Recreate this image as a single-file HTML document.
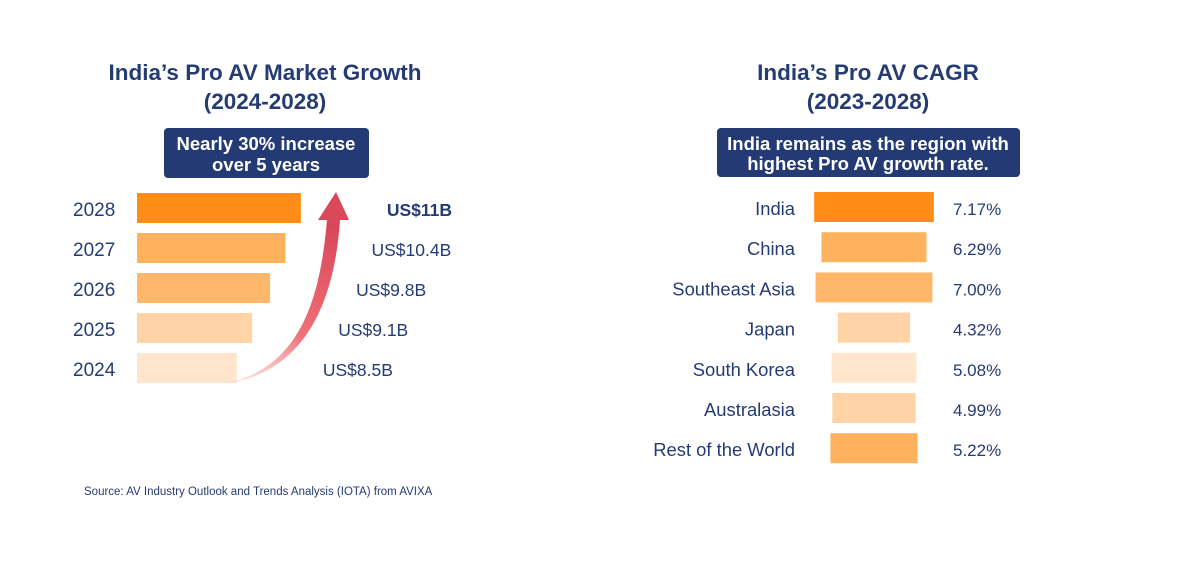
<!DOCTYPE html>
<html><head><meta charset="utf-8"><style>
body{margin:0;background:#fff;width:1200px;height:573px;overflow:hidden;font-family:"Liberation Sans",sans-serif}
svg text{font-family:"Liberation Sans",sans-serif}
</style></head><body>
<svg width="1200" height="573" viewBox="0 0 1200 573">
<defs>
<linearGradient id="arr" x1="0" y1="1" x2="0.3" y2="0">
<stop offset="0" stop-color="#f9c9c6" stop-opacity="0.4"/><stop offset="0.4" stop-color="#ef7178"/><stop offset="1" stop-color="#d9475a"/>
</linearGradient>
</defs>
<text x="265" y="80" text-anchor="middle" font-size="22.5" font-weight="bold" fill="#253b73">India’s Pro AV Market Growth</text>
<text x="265" y="109" text-anchor="middle" font-size="22.5" font-weight="bold" fill="#253b73">(2024-2028)</text>
<text x="868" y="80" text-anchor="middle" font-size="22.5" font-weight="bold" fill="#253b73">India’s Pro AV CAGR</text>
<text x="868" y="109" text-anchor="middle" font-size="22.5" font-weight="bold" fill="#253b73">(2023-2028)</text>
<g>
<rect x="164" y="128" width="205" height="50" rx="4" fill="#233a75"/>
<text x="266" y="150" text-anchor="middle" font-size="18.5" font-weight="bold" fill="#fff">Nearly 30% increase</text>
<text x="266" y="171" text-anchor="middle" font-size="18.5" font-weight="bold" fill="#fff">over 5 years</text>
</g>
<g>
<rect x="717" y="128" width="303" height="49" rx="4" fill="#233a75"/>
<text x="868" y="150" text-anchor="middle" font-size="18.5" font-weight="bold" fill="#fff">India remains as the region with</text>
<text x="868" y="170" text-anchor="middle" font-size="18.5" font-weight="bold" fill="#fff">highest Pro AV growth rate.</text>
</g>
<g id="left"></g><g id="right"></g>
<path d="M222,384 C300,370 320,300 327,220 L318,220 L336,192 L349,220 L340,220 C334,310 300,375 222,384 Z" fill="url(#arr)"/>
<text x="84" y="495" font-size="11.5" fill="#253b73">Source: AV Industry Outlook and Trends Analysis (IOTA) from AVIXA</text>
</svg>
<script>
const years=["2028","2027","2026","2025","2024"];
const marketValues=[11,10.4,9.8,9.1,8.5];
const marketLabels=["US$11B","US$10.4B","US$9.8B","US$9.1B","US$8.5B"];
const regions=["India","China","Southeast Asia","Japan","South Korea","Australasia","Rest of the World"];
const cagrValues=[7.17,6.29,7.00,4.32,5.08,4.99,5.22];
const cagrLabels=["7.17%","6.29%","7.00%","4.32%","5.08%","4.99%","5.22%"];
const leftColors=["#ff8c16","#ffb25e","#ffb86a","#ffd3a6","#ffe5cb"];
const rightColors=["#ff8c16","#ffb25e","#ffb86a","#ffd3a6","#ffe5cb","#ffd3a6","#ffb25e"];
const NS="http://www.w3.org/2000/svg";
function mk(t,a,p){const e=document.createElementNS(NS,t);for(const k in a)e.setAttribute(k,a[k]);p.appendChild(e);return e;}
const xL=v=>(v-4.6)*25.6;
const yL=i=>193+i*40;
const L=document.getElementById('left');
years.forEach((y,i)=>{
  const w=xL(marketValues[i]);
  const r=mk('rect',{x:137,y:yL(i),width:w,height:30,fill:leftColors[i]},L);
  
  
  const t=mk('text',{x:73,y:yL(i)+23,'font-size':19,fill:'#253b73'},L);t.textContent=y;
  
  
  const v=mk('text',{x:137+w+86,y:yL(i)+23,'font-size':17.5,fill:'#253b73','font-weight':i==0?'bold':'normal'},L);v.textContent=marketLabels[i];
  
  
});
const xR=v=>v*16.7;
const yR=i=>192+i*40.2;
const R=document.getElementById('right');
regions.forEach((g,i)=>{
  const w=xR(cagrValues[i]);
  const r=mk('rect',{x:874-w/2,y:yR(i),width:w,height:30,fill:rightColors[i]},R);
  
  
  const t=mk('text',{x:795,y:yR(i)+23,'font-size':18.4,fill:'#253b73','text-anchor':'end'},R);t.textContent=g;
  
  
  const v=mk('text',{x:953,y:yR(i)+23,'font-size':17,fill:'#253b73'},R);v.textContent=cagrLabels[i];
  
  
});
</script>
</body></html>
